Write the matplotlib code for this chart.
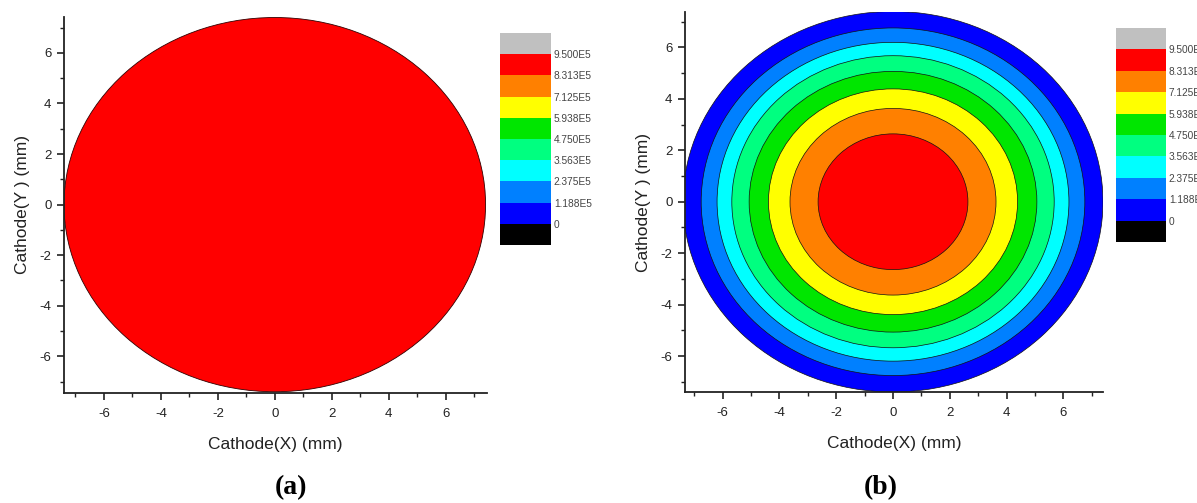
import numpy as np
import matplotlib.pyplot as plt
from matplotlib.colors import ListedColormap, BoundaryNorm
from matplotlib.patches import Circle
from matplotlib.cm import ScalarMappable

plt.rcParams['font.family'] = ['Liberation Sans', 'DejaVu Sans']
plt.rcParams['axes.unicode_minus'] = False

# contour levels (V/m) and the Origin style palette
levels = [0, 1.188e5, 2.375e5, 3.563e5, 4.750e5, 5.938e5, 7.125e5, 8.313e5, 9.500e5]
level_labels = ['0', '1.188E5', '2.375E5', '3.563E5', '4.750E5',
                '5.938E5', '7.125E5', '8.313E5', '9.500E5']
band_colors = ['#0000FF', '#0080FF', '#00FFFF', '#00FF80',
               '#00E600', '#FFFF00', '#FF8000', '#FF0000']
under_color = '#000000'
over_color = '#C0C0C0'

# (a) uniform field over the cathode
cathode_radius_a = 7.4
field_a = 9.0e5

# (b) ring outer radii (mm) and the field inside each ring
ring_radius_b = [7.4, 6.76, 6.2, 5.68, 5.07, 4.39, 3.63, 2.64]
ring_field_b = [0.6e5, 1.8e5, 3.0e5, 4.2e5, 5.3e5, 6.5e5, 7.7e5, 9.0e5]

cmap = ListedColormap(band_colors)
cmap.set_under(under_color)
cmap.set_over(over_color)
norm = BoundaryNorm(levels, cmap.N)

fig = plt.figure(figsize=(11.97, 5.03), dpi=100)
W, H = 1197.0, 503.0


def box(x0, y0, x1, y1):
    return [x0 / W, 1 - y1 / H, (x1 - x0) / W, (y1 - y0) / H]


def style_axes(ax, xlim, ylim):
    ax.set_xlim(*xlim)
    ax.set_ylim(*ylim)
    for s in ['top', 'right']:
        ax.spines[s].set_visible(False)
    for s in ['left', 'bottom']:
        ax.spines[s].set_linewidth(1.3)
        ax.spines[s].set_color('#222222')
    ax.set_xticks([-6, -4, -2, 0, 2, 4, 6])
    ax.set_yticks([-6, -4, -2, 0, 2, 4, 6])
    ax.set_xticks([-7, -5, -3, -1, 1, 3, 5, 7], minor=True)
    ax.set_yticks([-7, -5, -3, -1, 1, 3, 5, 7], minor=True)
    ax.tick_params(which='major', direction='out', length=5, width=1.2,
                   labelsize=9.5, colors='#222222', pad=4)
    ax.tick_params(axis='x', which='major', pad=6)
    ax.tick_params(which='minor', direction='out', length=3, width=1.0,
                   colors='#222222')
    ax.set_xlabel('Cathode(X) (mm)', fontsize=12.5, color='#222222', labelpad=12)
    ax.set_ylabel('Cathode(Y ) (mm)', fontsize=12.5, color='#222222', labelpad=7)


def draw_colorbar(x0, y0, x1, y1):
    cax = fig.add_axes(box(x0, y0, x1, y1))
    sm = ScalarMappable(norm=norm, cmap=cmap)
    cb = fig.colorbar(sm, cax=cax, extend='both', extendrect=True,
                      extendfrac=0.125, drawedges=False)
    cb.outline.set_visible(False)
    cb.set_ticks(levels)
    cb.set_ticklabels(level_labels)
    cax.tick_params(length=0, labelsize=7.3, colors='#444444', pad=2)
    return cb


# (a)
ax_a = fig.add_axes(box(64, 17, 487, 393))
ax_a.add_patch(Circle((0, 0), cathode_radius_a, facecolor=cmap(norm(field_a)),
                      edgecolor='#300000', linewidth=0.6))
style_axes(ax_a, (-7.4, 7.45), (-7.45, 7.42))
draw_colorbar(500, 33, 551, 245)
fig.text(291 / W, 1 - 488 / H, '(a)', fontsize=20, fontweight='bold',
         family='Liberation Serif', ha='center', va='center')

# (b)
ax_b = fig.add_axes(box(685, 12, 1103, 392))
for r, v in zip(ring_radius_b, ring_field_b):
    ax_b.add_patch(Circle((0, 0), r, facecolor=cmap(norm(v)),
                          edgecolor='#111111', linewidth=0.5))
style_axes(ax_b, (-7.33, 7.4), (-7.4, 7.38))
draw_colorbar(1116, 28, 1166, 242)
fig.text(881 / W, 1 - 488 / H, '(b)', fontsize=20, fontweight='bold',
         family='Liberation Serif', ha='center', va='center')

fig.savefig('out.png', dpi=100)
